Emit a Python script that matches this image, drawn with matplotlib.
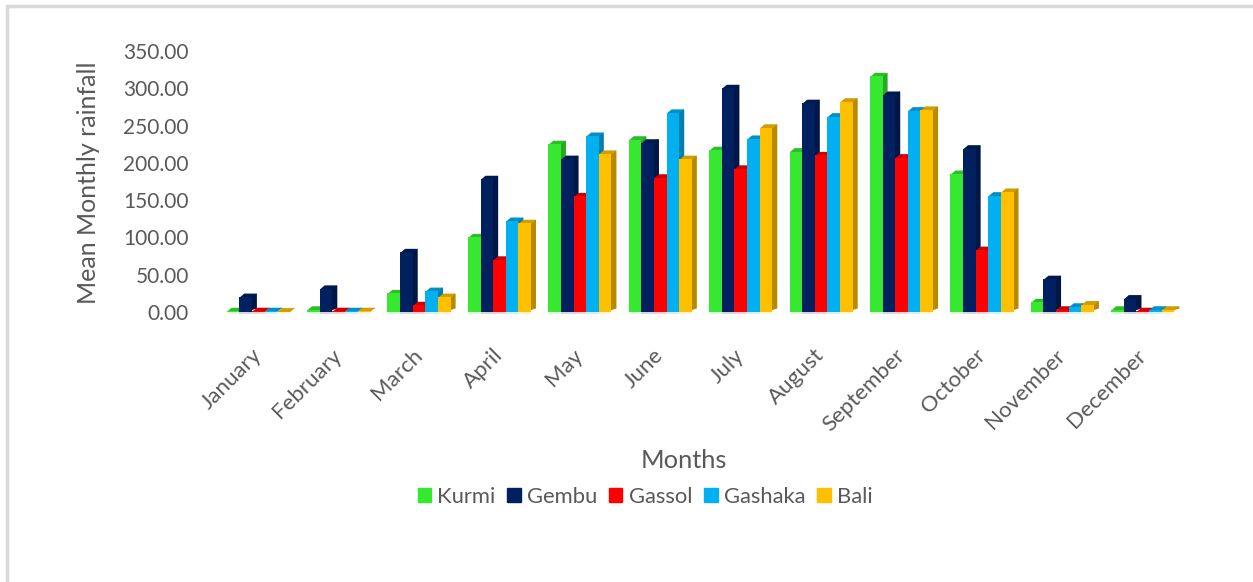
import matplotlib
matplotlib.use('Agg')
import matplotlib.pyplot as plt
from matplotlib.patches import Patch, Rectangle
import numpy as np
import matplotlib.colors as mcolors

months = ['January', 'February', 'March', 'April', 'May', 'June', 'July',
          'August', 'September', 'October', 'November', 'December']
kurmi = [1, 3, 25, 100, 225, 231, 217, 215, 316, 185, 13, 3]
gembu = [20, 31, 80, 178, 205, 227, 300, 280, 291, 219, 44, 18]
gassol = [1, 1, 9, 70, 155, 180, 192, 210, 207, 83, 3, 1]
gashaka = [1, 1, 28, 122, 236, 267, 232, 262, 270, 156, 7, 3]
bali = [0.5, 1, 20, 119, 212, 205, 247, 282, 271, 161, 10, 3]
stations = ['Kurmi', 'Gembu', 'Gassol', 'Gashaka', 'Bali']
colors = ['#36e82f', '#002060', '#ff0000', '#00b0f0', '#ffc000']
yticks = [0, 50, 100, 150, 200, 250, 300, 350]

plt.rcParams['font.family'] = ['Lato', 'DejaVu Sans']
W, H = 1253, 582
fig = plt.figure(figsize=(W / 100, H / 100), dpi=100)
ax = fig.add_axes([218 / W, 1 - 312 / H, 965 / W, 261 / H])
ax.patch.set_alpha(0)

width = 0.157
dx = 5 / 80.4   # depth of the 3d effect
dy = 3.5 / 0.743
x = np.arange(len(months))


def darker(c, f):
    return tuple(v * f for v in mcolors.to_rgb(c))


series = [kurmi, gembu, gassol, gashaka, bali]
for i, vals in enumerate(series):
    c = colors[i]
    pos = x + (i - 2) * width
    for xp, v in zip(pos, vals):
        left = xp - width / 2
        right = xp + width / 2
        # side and top first, then the front (side starts under the front so no gap shows)
        ax.fill([xp, right + dx, right + dx, xp],
                [0, dy, v + dy, v], color=darker(c, 0.72), lw=0, zorder=2 + i * 2)
        ax.fill([left, left + dx, right + dx, right],
                [v - 1, v + dy, v + dy, v - 1], color=darker(c, 0.82), lw=0, zorder=2 + i * 2)
    ax.bar(pos, vals, width, color=c, zorder=3 + i * 2)
    # faint reflection under the base
    ax.bar(pos, [-3] * len(pos), width, color=c, alpha=0.18, zorder=1, clip_on=False)

ax.set_xlim(-0.5, 11.5)
ax.set_ylim(0, 350)
ax.set_xticks(x)
ax.set_xticklabels(months, rotation=45, ha='right', va='center', rotation_mode='anchor',
                   fontsize=16, color='#595959')
ax.set_yticks(yticks)
ax.set_yticklabels(['%.2f' % t for t in yticks], fontsize=15, color='#595959')
ax.tick_params(axis='both', length=0)
ax.tick_params(axis='x', pad=29)
ax.tick_params(axis='y', pad=21)
for s in ax.spines.values():
    s.set_visible(False)

fig.text(88 / W, 1 - 183 / H, 'Mean Monthly rainfall', rotation=90, ha='center',
         va='center', fontsize=18, color='#595959')
fig.text(684 / W, 1 - 461 / H, 'Months', ha='center', va='center',
         fontsize=18.3, color='#595959')

handles = [Patch(color=c, label=s) for c, s in zip(colors, stations)]
fig.legend(handles=handles, ncol=5, frameon=False, loc='center',
           bbox_to_anchor=(645 / W, 1 - 497 / H), fontsize=15.8,
           labelcolor='#595959', handlelength=0.6, handleheight=0.6,
           handletextpad=0.28, columnspacing=0.56, borderpad=0)

# outer frame of the pasted chart
fig.add_artist(Rectangle((6.5 / W, -0.1), 2 * W, 1.1 - 6 / H, transform=fig.transFigure,
                         fill=False, edgecolor='#d9d9d9', lw=2.5))

fig.savefig('out.png', dpi=100)
